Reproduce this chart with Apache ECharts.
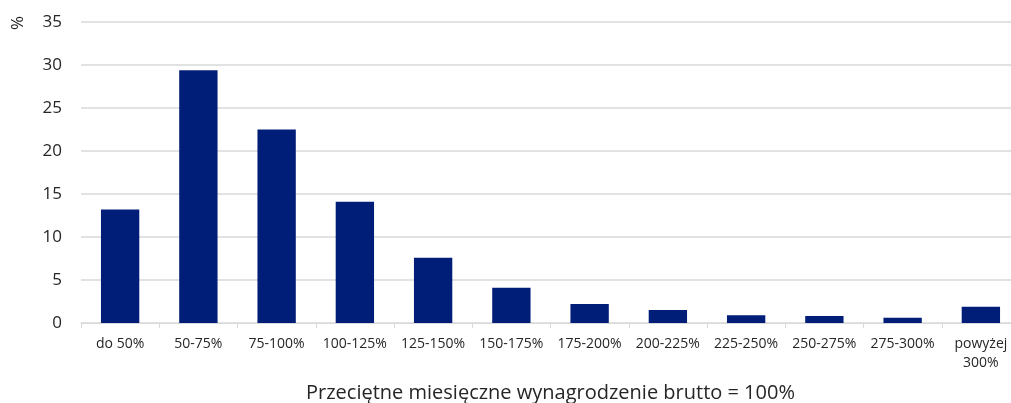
<!DOCTYPE html>
<html>
<head>
<meta charset="utf-8">
<script src="https://cdn.jsdelivr.net/npm/echarts@6/dist/echarts.min.js"></script>
<style>
  html, body { margin: 0; padding: 0; background: #ffffff; }
  #chart { width: 1011px; height: 403px; }
</style>
</head>
<body>
<div id="chart"></div>
<script>
var categories = ['do 50%', '50-75%', '75-100%', '100-125%', '125-150%', '150-175%', '175-200%', '200-225%', '225-250%', '250-275%', '275-300%', 'powyżej\n300%']
var shares = [13.2, 29.4, 22.5, 14.1, 7.6, 4.1, 2.2, 1.5, 0.9, 0.8, 0.6, 1.9]
var yTicks = { min: 0, max: 35, interval: 5 }

var myChart = echarts.init(document.getElementById('chart'))
var font = '"Open Sans", "Noto Sans", sans-serif'

var option = {
  backgroundColor: '#ffffff',
  animation: false,
  textStyle: { fontFamily: font },
  grid: {
    left: 81,
    top: 22,
    width: 939,
    height: 301,
    outerBoundsMode: 'none',
    containLabel: false
  },
  graphic: [
    {
      type: 'text',
      x: 10,
      y: 30,
      rotation: Math.PI / 2,
      style: {
        text: '%',
        fontSize: 17,
        fontFamily: font,
        fill: '#262626'
      }
    }
  ],
  xAxis: {
    type: 'category',
    data: categories,
    name: 'Przeciętne miesięczne wynagrodzenie brutto = 100%',
    nameLocation: 'middle',
    nameGap: 60,
    nameTextStyle: { fontSize: 20, color: '#262626', fontFamily: font },
    axisLine: { lineStyle: { color: '#d9d9d9', width: 1 } },
    axisTick: { show: true, length: 5, lineStyle: { color: '#d9d9d9' } },
    axisLabel: {
      color: '#262626',
      fontSize: 14,
      margin: 12,
      lineHeight: 19,
      interval: 0,
      fontFamily: font
    }
  },
  yAxis: {
    type: 'value',
    min: yTicks.min,
    max: yTicks.max,
    interval: yTicks.interval,
    axisLine: { show: false },
    axisTick: { show: false },
    axisLabel: { color: '#262626', fontSize: 17, margin: 19, fontFamily: font },
    splitLine: { lineStyle: { color: '#d9d9d9', width: 1.5 } }
  },
  series: [
    {
      type: 'bar',
      data: shares,
      barWidth: '49%',
      itemStyle: { color: '#001e77' }
    }
  ]
}

myChart.setOption(option, true)
window.addEventListener('resize', () => {
  myChart.resize()
})
</script>
</body>
</html>
